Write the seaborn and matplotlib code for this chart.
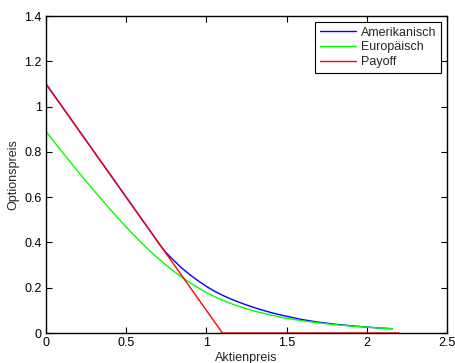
import numpy as np
import matplotlib
matplotlib.use("Agg")
import matplotlib.pyplot as plt
import pandas as pd
import seaborn as sns

# values
preis_am = [0.0, 0.1, 0.2, 0.3, 0.4, 0.5, 0.6, 0.7, 0.72, 0.75, 0.8, 0.85, 0.9,
            0.95, 1.0, 1.05, 1.1, 1.15, 1.2, 1.25, 1.3, 1.35, 1.4, 1.45, 1.5,
            1.6, 1.7, 1.8, 1.9, 2.0, 2.1, 2.16]
amerikanisch = [1.1, 1.0, 0.9, 0.8, 0.7, 0.6, 0.5, 0.4, 0.38, 0.354, 0.318, 0.285,
                0.256, 0.23, 0.206, 0.185, 0.167, 0.151, 0.137, 0.124, 0.112,
                0.101, 0.091, 0.082, 0.074, 0.059, 0.048, 0.039, 0.032, 0.026,
                0.021, 0.019]
preis_eu = [0.0, 0.1, 0.2, 0.3, 0.4, 0.5, 0.55, 0.6, 0.65, 0.7, 0.75, 0.8, 0.85,
            0.9, 0.95, 1.0, 1.05, 1.1, 1.15, 1.2, 1.25, 1.3, 1.35, 1.4, 1.45,
            1.5, 1.6, 1.7, 1.8, 1.9, 2.0, 2.1, 2.16]
europaeisch = [0.89, 0.80, 0.713, 0.628, 0.546, 0.468, 0.431, 0.395, 0.361, 0.329,
               0.299, 0.271, 0.245, 0.221, 0.199, 0.179, 0.161, 0.145, 0.131,
               0.118, 0.107, 0.097, 0.088, 0.080, 0.072, 0.065, 0.054, 0.045,
               0.037, 0.031, 0.026, 0.021, 0.019]
payoff_preis = [0.0, 1.1, 2.2]
payoff = [1.1, 0.0, 0.0]

sns.set_style("ticks")
plt.rcParams['font.family'] = ['Liberation Sans', 'DejaVu Sans']
plt.rcParams['font.size'] = 9

fig = plt.figure(figsize=(4.56, 3.63), dpi=100)
ax = fig.add_axes([0.101, 0.0826, 0.879, 0.873])

sns.lineplot(x=preis_am, y=amerikanisch, color='#0000ff', lw=1, label='Amerikanisch', ax=ax)
sns.lineplot(x=preis_eu, y=europaeisch, color='#00ff00', lw=1, label='Europäisch', ax=ax)
sns.lineplot(x=payoff_preis, y=payoff, color='#ff0000', lw=1, label='Payoff', ax=ax)

ax.set_xlim(0, 2.5)
ax.set_ylim(0, 1.4)
ax.set_xticks([0, 0.5, 1, 1.5, 2, 2.5])
ax.set_xticklabels(['0', '0.5', '1', '1.5', '2', '2.5'])
ax.set_yticks([0, 0.2, 0.4, 0.6, 0.8, 1, 1.2, 1.4])
ax.set_yticklabels(['0', '0.2', '0.4', '0.6', '0.8', '1', '1.2', '1.4'])
ax.tick_params(direction='in', top=True, right=True, length=4, width=0.8,
               labelsize=9, colors='black', pad=3)
for s in ax.spines.values():
    s.set_visible(True)
    s.set_linewidth(1)
    s.set_color('black')

ax.set_xlabel('Aktienpreis', fontsize=9, labelpad=2)
ax.set_ylabel('Optionspreis', fontsize=9, labelpad=4)

leg = ax.legend(loc='upper right', fontsize=9, fancybox=False, framealpha=1,
                edgecolor='black', handlelength=2.9, borderpad=0.35,
                labelspacing=0.22, handletextpad=0.4, borderaxespad=0.5)
leg.get_frame().set_linewidth(0.8)

fig.savefig('out.png', dpi=100)
